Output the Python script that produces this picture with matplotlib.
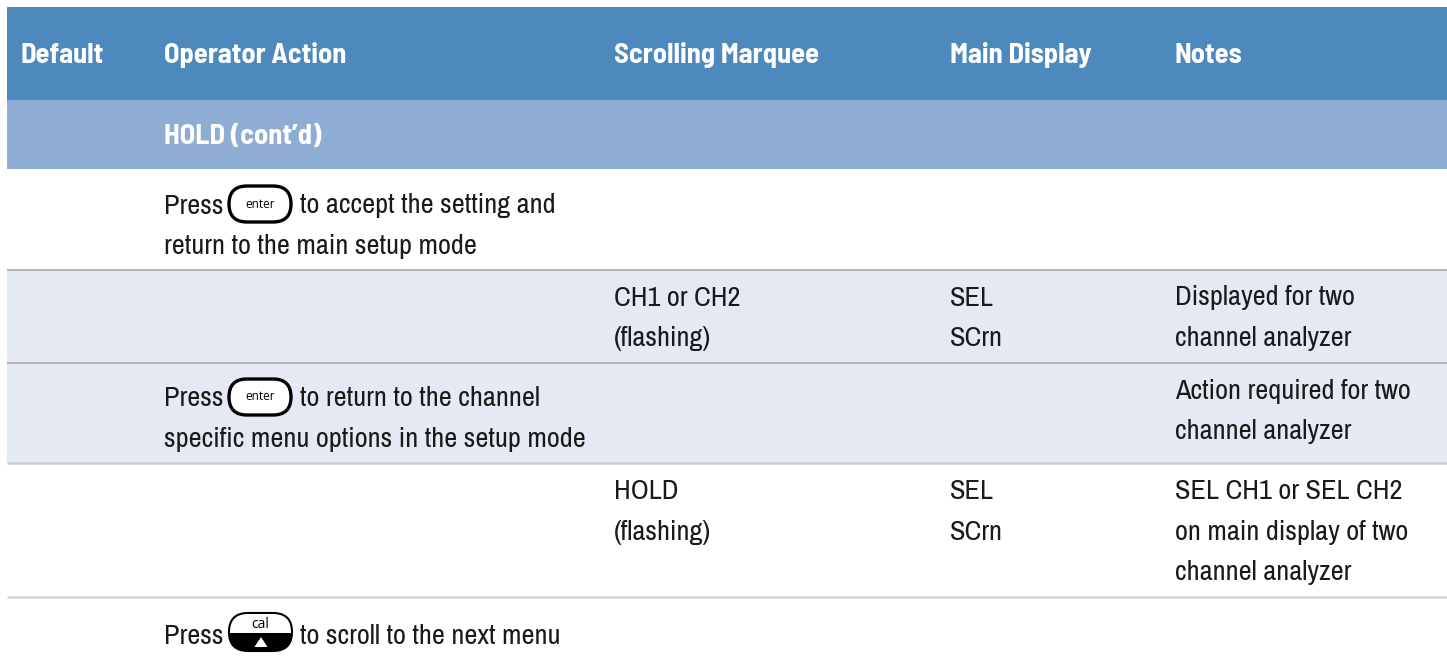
import matplotlib
matplotlib.use('Agg')
import matplotlib.pyplot as plt
from matplotlib.patches import FancyBboxPatch, Rectangle, Polygon

plt.rcParams['font.family'] = ['Archivo Narrow', 'Liberation Sans', 'DejaVu Sans']

# table content
headers = ['Default', 'Operator Action', 'Scrolling Marquee', 'Main Display', 'Notes']
section = 'HOLD (cont’d)'
row1_action = ['to accept the setting and', 'return to the main setup mode']
row2_marquee = ['CH1 or CH2', '(flashing)']
row2_display = ['SEL', 'SCrn']
row2_notes = ['Displayed for two', 'channel analyzer']
row3_action = ['to return to the channel', 'specific menu options in the setup mode']
row3_notes = ['Action required for two', 'channel analyzer']
row4_marquee = ['HOLD', '(flashing)']
row4_display = ['SEL', 'SCrn']
row4_notes = ['SEL CH1 or SEL CH2', 'on main display of two', 'channel analyzer']
row5_action = 'to scroll to the next menu'

# layout in pixels
col_x = [20, 164, 614, 950, 1175]
left, right = 7, 1447
body_size = 20.4
head_size = 20.5
ink = '#1a1a1a'

fig = plt.figure(figsize=(14.47, 6.57), dpi=100)
ax = fig.add_axes([0, 0, 1, 1])
ax.set_xlim(0, 1447)
ax.set_ylim(657, 0)
ax.axis('off')


def band(y0, y1, color):
    ax.add_patch(Rectangle((left, y0), right - left, y1 - y0, fc=color, ec='none'))


def rule(y, color, lw):
    ax.plot([left, right], [y, y], color=color, lw=lw, solid_capstyle='butt')


def body(x, y, s):
    ax.text(x, y, s, fontsize=body_size, color=ink, va='baseline', ha='left')


def lines(x, ys, items):
    for y, s in zip(ys, items):
        body(x, y, s)


def head(x, y, s):
    ax.text(x, y, s, fontsize=head_size, family=['Barlow Semi Condensed', 'Liberation Sans'],
            fontweight='bold', color='white', va='baseline', ha='left')


def enter_key(x, y):
    ax.add_patch(FancyBboxPatch((x + 1, y - 18), 62, 36, boxstyle='round,pad=0,rounding_size=18',
                                fc='white', ec='black', lw=2.4, zorder=3))
    ax.text(x + 32.5, y, 'enter', fontsize=8.5, family='Open Sans', color='black', ha='center',
            va='center', zorder=4)


def cal_key(x, y):
    shape = FancyBboxPatch((x + 1, y - 19), 63, 38, boxstyle='round,pad=0,rounding_size=19',
                           fc='black', ec='black', lw=1.5, zorder=3)
    ax.add_patch(shape)
    inner = FancyBboxPatch((x + 2, y - 18), 61, 36, boxstyle='round,pad=0,rounding_size=18',
                           fc='none', ec='none')
    ax.add_patch(inner)
    top = Rectangle((x, y - 18), 65, 19, fc='white', ec='none', zorder=4)
    ax.add_patch(top)
    top.set_clip_path(inner)
    ax.text(x + 32.5, y - 8, 'cal', fontsize=10, family='Open Sans', color='black', ha='center',
            va='center', zorder=5)
    ax.add_patch(Polygon([(x + 26.5, y + 15), (x + 39.5, y + 15), (x + 33, y + 5)], fc='white',
                         ec='none', zorder=5))


# bands
band(7, 100, '#4e89bd')
band(100, 169, '#8fadd4')
band(269, 463, '#e5e9f4')
rule(269.5, '#a9a9ad', 1.2)
rule(362.5, '#a9a9ad', 1.2)
rule(463, '#c8ccd4', 1.8)
rule(596.5, '#d2d2d2', 1.8)

# header
for x, h in zip(col_x, headers):
    head(x, 63, h)
head(col_x[1], 144, section)

# row 1
body(col_x[1], 213.5, 'Press')
enter_key(228, 204)
body(300, 213.5, row1_action[0])
body(col_x[1], 254, row1_action[1])

# row 2
lines(col_x[2], [305.5, 346], row2_marquee)
lines(col_x[3], [305.5, 346], row2_display)
lines(col_x[4], [305.5, 346], row2_notes)

# row 3
body(col_x[1], 406.5, 'Press')
enter_key(228, 397)
body(300, 406.5, row3_action[0])
body(col_x[1], 447, row3_action[1])
lines(col_x[4], [398.5, 439], row3_notes)

# row 4
lines(col_x[2], [499, 540], row4_marquee)
lines(col_x[3], [499, 540], row4_display)
lines(col_x[4], [499, 540, 580], row4_notes)

# row 5
body(col_x[1], 644, 'Press')
cal_key(228, 632)
body(300, 644, row5_action)

fig.savefig('out.png', dpi=100)
